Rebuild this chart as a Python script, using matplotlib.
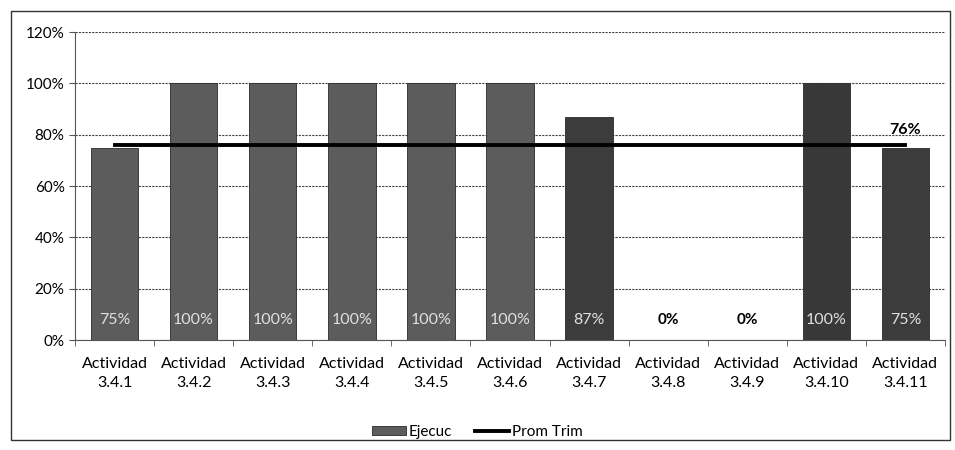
import matplotlib.pyplot as plt
import numpy as np
from matplotlib.patches import Rectangle

plt.rcParams["font.family"] = ["Lato", "DejaVu Sans"]

categories = ["Actividad\n3.4.1", "Actividad\n3.4.2", "Actividad\n3.4.3", "Actividad\n3.4.4",
              "Actividad\n3.4.5", "Actividad\n3.4.6", "Actividad\n3.4.7", "Actividad\n3.4.8",
              "Actividad\n3.4.9", "Actividad\n3.4.10", "Actividad\n3.4.11"]
ejecuc = [75, 100, 100, 100, 100, 100, 87, 0, 0, 100, 75]
prom_trim = [76] * len(categories)
yticks = [0, 20, 40, 60, 80, 100, 120]

fig = plt.figure(figsize=(9.55, 4.5), dpi=100)
ax = fig.add_axes([0.0785, 0.2444, 0.911, 0.6844])

# outer chart border
fig.patches.append(Rectangle((0.011, 0.022), 0.984, 0.953, transform=fig.transFigure,
                             fill=False, edgecolor="#333333", linewidth=1))

x = np.arange(len(categories))
colors = ["#5c5c5c"] * 6 + ["#3c3c3c", "#3c3c3c", "#3c3c3c", "#383838", "#3c3c3c"]
bars = ax.bar(x, ejecuc, width=0.6, color=colors, edgecolor="#2a2a2a", linewidth=0.6,
              label="Ejecuc", zorder=2)
line, = ax.plot(x, prom_trim, color="black", linewidth=2.8, label="Prom Trim", zorder=3)

for xi, v in zip(x, ejecuc):
    if v > 0:
        ax.text(xi, 5, f"{v}%", ha="center", va="bottom", color="#e0e0e0", fontsize=11.5, zorder=4)
    else:
        ax.text(xi, 5, f"{v}%", ha="center", va="bottom", color="black", fontsize=11,
                fontweight="bold", zorder=4)
ax.text(x[-1], prom_trim[-1] + 3, f"{prom_trim[-1]}%", ha="center", va="bottom",
        color="black", fontsize=11.5, fontweight="bold", zorder=4)

ax.set_xlim(-0.5, len(categories) - 0.5)
ax.set_ylim(0, 120)
ax.set_yticks(yticks)
ax.set_yticklabels([f"{t}%" for t in yticks], fontsize=11)
ax.set_xticks(x)
ax.set_xticklabels(categories, fontsize=11.5, linespacing=1.5)
ax.set_xticks(np.arange(-0.5, len(categories)), minor=True)
ax.tick_params(axis="x", which="major", length=0, pad=12)
ax.tick_params(axis="x", which="minor", length=4, color="#555555")
ax.tick_params(axis="y", length=4, color="#555555")

ax.grid(axis="y", linestyle=(0, (2, 1)), color="#444444", linewidth=0.8, zorder=0)
ax.set_axisbelow(True)
for side in ["top", "right"]:
    ax.spines[side].set_visible(False)
ax.spines["left"].set_color("#555555")
ax.spines["bottom"].set_color("#555555")

fig.legend([bars, line], ["Ejecuc", "Prom Trim"], loc="center", bbox_to_anchor=(0.5, 0.04),
           ncol=2, frameon=False, fontsize=11, handlelength=2.2, handleheight=0.6,
           columnspacing=1.5, handletextpad=0.2)

fig.savefig("out.png", dpi=100)
